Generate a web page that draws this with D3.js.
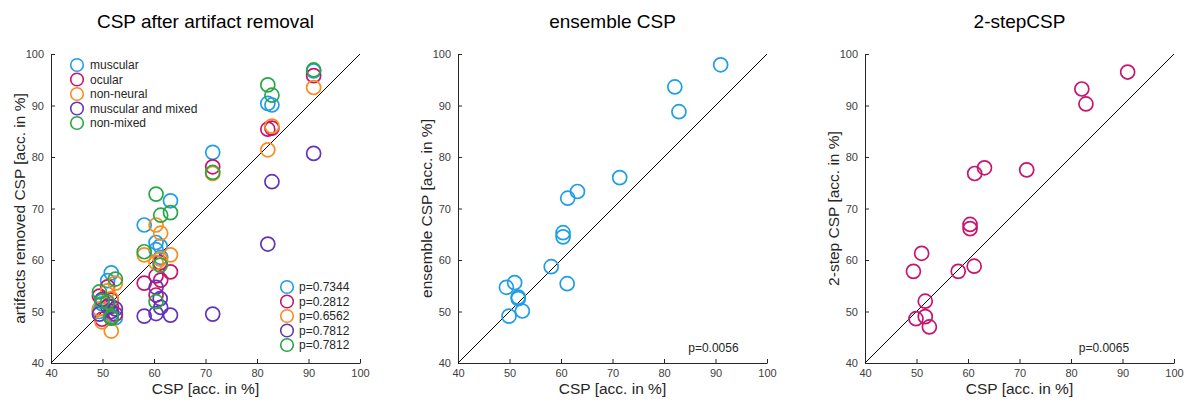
<!DOCTYPE html>
<html>
<head>
<meta charset="utf-8">
<script src="https://cdn.jsdelivr.net/npm/d3@7"></script>
<style>
  body { margin: 0; background: #fff; }
  text { font-family: "Liberation Sans", Arial, Helvetica, sans-serif; }
</style>
</head>
<body>
<div id="chart"></div>
<script>
// baseline CSP accuracy per subject (x of every panel)
let cspAcc = [49.4, 49.9, 51.0, 51.7, 51.7, 52.5, 58.1, 60.4, 60.4, 61.2, 61.3, 63.2, 71.4, 82.1, 82.9, 91.0];

// panel 1: CSP after removing each artifact type
let artifactTypes = ['muscular', 'ocular', 'non-neural', 'muscular and mixed', 'non-mixed'];
let muscularAcc = [50.0, 51.5, 56.0, 57.5, 49.5, 48.8, 66.8, 63.4, 62.0, 62.7, 60.5, 71.5, 80.9, 90.4, 90.1, 96.7];
let ocularAcc = [53.0, 48.5, 54.8, 52.2, 51.0, 49.5, 55.5, 56.9, 53.2, 59.5, 56.1, 57.7, 78.1, 85.4, 85.6, 95.8];
let nonNeuralAcc = [50.5, 48.0, 54.0, 46.2, 52.5, 55.5, 61.0, 66.8, 59.5, 60.2, 65.2, 61.0, 76.8, 81.4, 86.0, 93.5];
let muscMixedAcc = [49.5, 52.3, 51.0, 50.0, 48.8, 50.5, 49.1, 54.7, 49.6, 52.5, 50.8, 49.3, 49.5, 63.1, 75.2, 80.7];
let nonMixedAcc = [53.8, 52.0, 51.8, 48.7, 49.0, 56.3, 61.6, 72.8, 51.9, 59.0, 68.7, 69.2, 77.0, 94.0, 92.0, 96.9];
let artifactPValues = ['p=0.7344', 'p=0.2812', 'p=0.6562', 'p=0.7812', 'p=0.7812'];

// panels 2 and 3
let ensembleAcc = [54.7, 49.1, 55.6, 52.8, 52.5, 50.1, 58.7, 65.3, 64.5, 55.4, 72.0, 73.3, 76.0, 93.6, 88.8, 97.9];
let twoStepAcc = [57.8, 48.6, 61.3, 52.0, 49.0, 47.0, 57.8, 66.9, 66.1, 58.8, 76.8, 77.9, 77.5, 93.2, 90.3, 96.5];
let ensembleP = 'p=0.0056';
let twoStepP = 'p=0.0065';

let axisTicks = [40, 50, 60, 70, 80, 90, 100];

let colors = ['#1f9ee8', '#c8146e', '#fb8c1c', '#6234bd', '#27a745'];

let width = 1185, height = 402;
let svg = d3.select('#chart').append('svg')
    .attr('width', width)
    .attr('height', height);

let panels = [
    {left: 51, title: 'CSP after artifact removal', ylabel: 'artifacts removed CSP [acc. in %]'},
    {left: 458, title: 'ensemble CSP', ylabel: 'ensemble CSP [acc. in %]'},
    {left: 865, title: '2-stepCSP', ylabel: '2-step CSP [acc. in %]'}
];
let plotSize = 309, plotTop = 54;

function drawPanel(p) {
    let x = d3.scaleLinear().domain([40, 100]).range([p.left, p.left + plotSize]);
    let y = d3.scaleLinear().domain([40, 100]).range([plotTop + plotSize, plotTop]);
    let g = svg.append('g');

    let xAxis = g.append('g')
        .attr('transform', `translate(0, ${plotTop + plotSize})`)
        .call(d3.axisBottom(x).tickValues(axisTicks).tickSizeInner(-4).tickSizeOuter(0).tickPadding(6));
    let yAxis = g.append('g')
        .attr('transform', `translate(${p.left}, 0)`)
        .call(d3.axisLeft(y).tickValues(axisTicks).tickSizeInner(-4).tickSizeOuter(0).tickPadding(7));
    [xAxis, yAxis].forEach(a => {
        a.select('.domain').attr('stroke', '#262626');
        a.selectAll('.tick line').attr('stroke', '#262626');
        a.selectAll('.tick text').attr('fill', '#404040').style('font-size', '11px')
            .style('font-family', '"Liberation Sans", Arial, sans-serif');
    });

    g.append('line')
        .attr('x1', x(40)).attr('y1', y(40))
        .attr('x2', x(100)).attr('y2', y(100))
        .attr('stroke', '#000')
        .attr('stroke-width', 1);

    g.append('text')
        .attr('x', p.left + plotSize / 2)
        .attr('y', 28)
        .attr('text-anchor', 'middle')
        .style('font-size', '19px')
        .attr('fill', '#000')
        .text(p.title);

    g.append('text')
        .attr('x', p.left + plotSize / 2)
        .attr('y', 394)
        .attr('text-anchor', 'middle')
        .style('font-size', '15.5px')
        .attr('fill', '#262626')
        .text('CSP [acc. in %]');

    g.append('text')
        .attr('transform', `translate(${p.left - 26}, ${plotTop + plotSize / 2}) rotate(-90)`)
        .attr('text-anchor', 'middle')
        .style('font-size', '15.5px')
        .attr('fill', '#262626')
        .text(p.ylabel);

    return {g, x, y};
}

function drawCircles(g, x, y, xs, ys, color) {
    g.append('g')
        .selectAll('circle')
        .data(xs.map((d, i) => [d, ys[i]]))
        .join('circle')
        .attr('cx', d => x(d[0]))
        .attr('cy', d => y(d[1]))
        .attr('r', 7)
        .attr('fill', 'none')
        .attr('stroke', color)
        .attr('stroke-width', 1.7);
}

// panel 1
let p1 = drawPanel(panels[0]);
let artifactSeries = [muscularAcc, ocularAcc, nonNeuralAcc, muscMixedAcc, nonMixedAcc];
artifactSeries.forEach((s, i) => drawCircles(p1.g, p1.x, p1.y, cspAcc, s, colors[i]));

let legend = p1.g.append('g');
artifactTypes.forEach((t, i) => {
    let ly = 65 + i * 14.5;
    legend.append('circle')
        .attr('cx', 77).attr('cy', ly).attr('r', 6.3)
        .attr('fill', 'none').attr('stroke', colors[i]).attr('stroke-width', 1.6);
    legend.append('text')
        .attr('x', 90).attr('y', ly + 4.3)
        .style('font-size', '12px').attr('fill', '#262626')
        .text(t);
});

let pLegend = p1.g.append('g');
artifactPValues.forEach((t, i) => {
    let ly = 287 + i * 14.5;
    pLegend.append('circle')
        .attr('cx', 287).attr('cy', ly).attr('r', 6.3)
        .attr('fill', 'none').attr('stroke', colors[i]).attr('stroke-width', 1.6);
    pLegend.append('text')
        .attr('x', 299).attr('y', ly + 4.3)
        .style('font-size', '12px').attr('fill', '#262626')
        .text(t);
});

// panel 2
let p2 = drawPanel(panels[1]);
drawCircles(p2.g, p2.x, p2.y, cspAcc, ensembleAcc, colors[0]);
p2.g.append('text')
    .attr('x', p2.x(84.7)).attr('y', 352)
    .style('font-size', '12px').attr('fill', '#262626')
    .text(ensembleP);

// panel 3
let p3 = drawPanel(panels[2]);
drawCircles(p3.g, p3.x, p3.y, cspAcc, twoStepAcc, colors[1]);
p3.g.append('text')
    .attr('x', p3.x(81.5)).attr('y', 352)
    .style('font-size', '12px').attr('fill', '#262626')
    .text(twoStepP);
</script>
</body>
</html>
